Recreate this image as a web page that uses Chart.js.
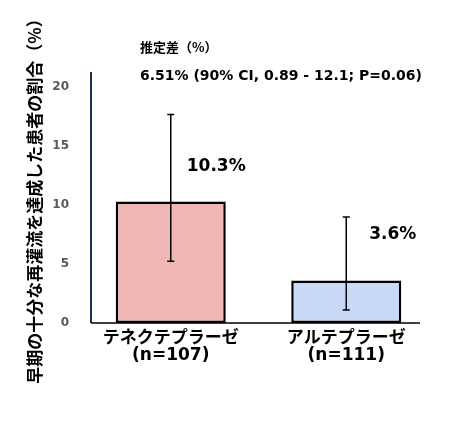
<!DOCTYPE html>
<html>
<head>
<meta charset="utf-8">
<script src="https://cdn.jsdelivr.net/npm/chart.js@4"></script>
<style>
  html, body { margin: 0; padding: 0; background: #fff; }
</style>
</head>
<body>
<canvas id="chart" width="462" height="436"></canvas>
<script>
const categories = [["テネクテプラーゼ", "(n=107)"], ["アルテプラーゼ", "(n=111)"]];
const values = [10.3, 3.6];
const errLow = [5.25, 1.1];
const errHigh = [17.7, 9.0];
const valueLabels = ["10.3%", "3.6%"];
const yTicks = [0, 5, 10, 15, 20];
const barColors = ["#f0b7b5", "#c9daf8"];

const latin = "'DejaVu Sans', 'Noto Sans CJK JP', sans-serif";
const cjk = "'Noto Sans CJK JP', sans-serif";

// where the value labels sit (in axis units) and how far right of the bar centre
const labelY = [13.3, 7.5];
const labelDx = [16, 23];

const decorations = {
  id: "decorations",
  afterDatasetsDraw(chart) {
    const ctx = chart.ctx;
    const area = chart.chartArea;
    const y = chart.scales.y;
    const meta = chart.getDatasetMeta(0);

    // axis lines
    const axisX = area.left + 8;
    ctx.save();
    ctx.strokeStyle = "#1f3152";
    ctx.lineWidth = 2;
    ctx.beginPath();
    ctx.moveTo(axisX, area.top);
    ctx.lineTo(axisX, area.bottom);
    ctx.stroke();
    ctx.strokeStyle = "#000";
    ctx.lineWidth = 1.5;
    ctx.beginPath();
    ctx.moveTo(axisX, area.bottom);
    ctx.lineTo(area.right - 14, area.bottom);
    ctx.stroke();

    // error bars
    ctx.lineWidth = 1.5;
    meta.data.forEach((bar, i) => {
      const top = y.getPixelForValue(errHigh[i]);
      const bot = y.getPixelForValue(errLow[i]);
      ctx.beginPath();
      ctx.moveTo(bar.x, top);
      ctx.lineTo(bar.x, bot);
      ctx.moveTo(bar.x - 3.5, top);
      ctx.lineTo(bar.x + 3.5, top);
      ctx.moveTo(bar.x - 3.5, bot);
      ctx.lineTo(bar.x + 3.5, bot);
      ctx.stroke();
    });

    // value labels
    ctx.fillStyle = "#000";
    ctx.font = "bold 17px " + latin;
    ctx.textBaseline = "middle";
    ctx.textAlign = "left";
    meta.data.forEach((bar, i) => {
      ctx.fillText(valueLabels[i], bar.x + labelDx[i], y.getPixelForValue(labelY[i]));
    });

    // header texts
    ctx.font = "bold 13px " + cjk;
    ctx.fillText("推定差（%）", 140, 47);
    ctx.font = "bold 14px " + latin;
    ctx.fillText("6.51% (90% CI, 0.89 - 12.1; P=0.06)", 140, 76);

    // y axis title
    ctx.translate(35, 197);
    ctx.rotate(-Math.PI / 2);
    ctx.textAlign = "center";
    ctx.font = "bold 17px " + cjk;
    ctx.fillText("早期の十分な再灌流を達成した患者の割合（%）", 0, 0);
    ctx.restore();
  }
};

new Chart(document.getElementById("chart"), {
  type: "bar",
  data: {
    labels: categories,
    datasets: [{
      data: values,
      backgroundColor: barColors,
      borderColor: "#000",
      borderWidth: 2.5,
      borderSkipped: false,
      barPercentage: 0.627,
      categoryPercentage: 1
    }]
  },
  options: {
    responsive: false,
    animation: false,
    devicePixelRatio: 1,
    layout: { padding: { top: 72, right: 28, bottom: 0, left: 0 } },
    plugins: { legend: { display: false }, tooltip: { enabled: false } },
    scales: {
      x: {
        grid: { display: false, drawTicks: false },
        border: { display: false },
        ticks: {
          color: "#000",
          padding: 7,
          maxRotation: 0,
          font: { family: latin, size: 17, weight: "bold", lineHeight: 1.0 }
        },
        afterFit(scale) { scale.height = 113; }
      },
      y: {
        min: 0,
        max: 21.3,
        grid: { display: false, drawTicks: false },
        border: { display: false },
        afterBuildTicks(scale) { scale.ticks = yTicks.map(v => ({ value: v })); },
        ticks: {
          color: "#595959",
          padding: 14,
          font: { family: latin, size: 12, weight: "bold" }
        },
        afterFit(scale) { scale.width = 83; }
      }
    }
  },
  plugins: [decorations]
});
</script>
</body>
</html>
